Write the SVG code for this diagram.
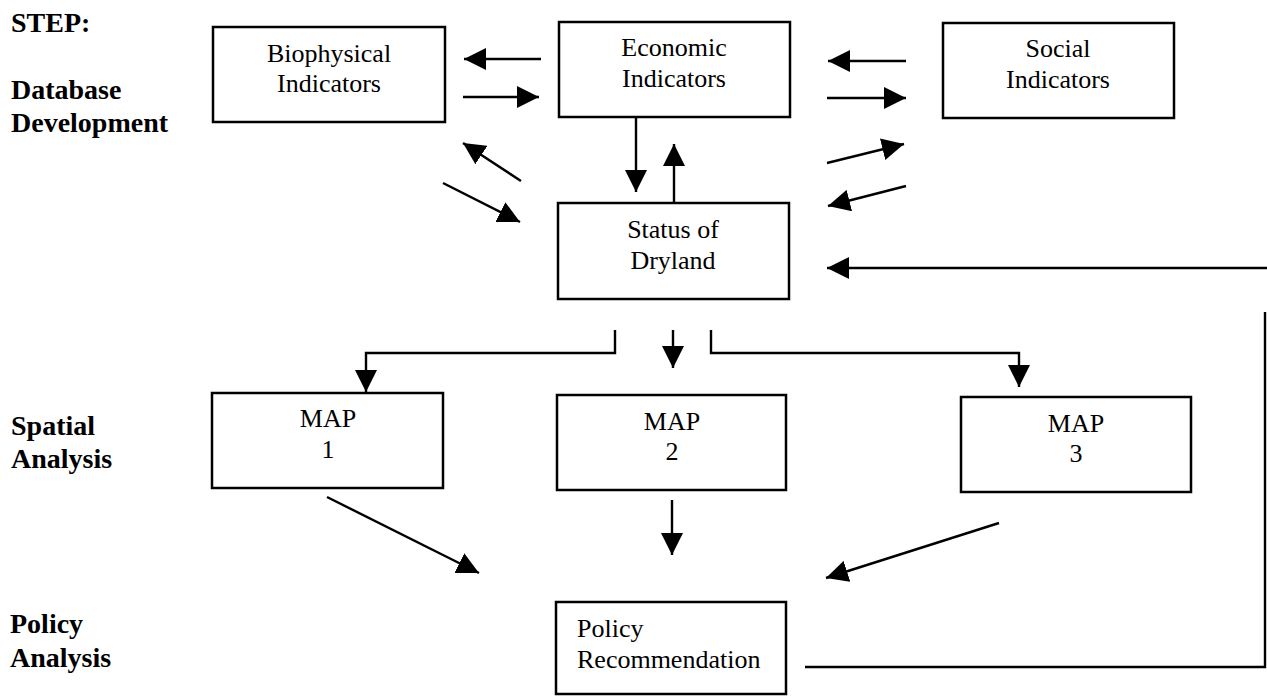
<svg xmlns="http://www.w3.org/2000/svg" width="1267" height="696" viewBox="0 0 1267 696">
<style>
.box{fill:#fff;stroke:#000;stroke-width:2.5}
.t{font-family:"Liberation Serif","Times New Roman",serif;font-size:26px;fill:#000}
.c{text-anchor:middle}
.lbl{font-family:"Liberation Serif","Times New Roman",serif;font-size:28px;font-weight:bold;fill:#000}
.ln{stroke:#000;stroke-width:2.4;fill:none}
.ar{stroke:#000;stroke-width:2.4;fill:none;marker-end:url(#ah)}
</style>
<defs>
<marker id="ah" viewBox="0 0 22 22" markerWidth="22" markerHeight="22" refX="22" refY="11" orient="auto" markerUnits="userSpaceOnUse">
<path d="M0,0 L22,11 L0,22 z" fill="#000"/>
</marker>
</defs>
<rect width="1267" height="696" fill="#fff"/>
<g id="labels">
<text class="lbl" x="11" y="32">STEP:</text>
<text class="lbl" x="11" y="99">Database</text>
<text class="lbl" x="11" y="132">Development</text>
<text class="lbl" x="11" y="435">Spatial</text>
<text class="lbl" x="11" y="468">Analysis</text>
<text class="lbl" x="10" y="633">Policy</text>
<text class="lbl" x="10" y="667">Analysis</text>
</g>
<g id="node-bio">
<rect class="box" x="213" y="27" width="232" height="95"/>
<text class="t c" x="329" y="62">Biophysical</text>
<text class="t c" x="329" y="92">Indicators</text>
</g>
<g id="node-econ">
<rect class="box" x="559" y="22" width="231" height="95"/>
<text class="t c" x="674" y="56">Economic</text>
<text class="t c" x="674" y="87">Indicators</text>
</g>
<g id="node-social">
<rect class="box" x="943" y="23" width="231" height="95"/>
<text class="t c" x="1058" y="57">Social</text>
<text class="t c" x="1058" y="88">Indicators</text>
</g>
<g id="node-status">
<rect class="box" x="558" y="203" width="231" height="96"/>
<text class="t c" x="673" y="238">Status of</text>
<text class="t c" x="673" y="269">Dryland</text>
</g>
<g id="node-map1">
<rect class="box" x="212" y="393" width="231" height="95"/>
<text class="t c" x="328" y="427">MAP</text>
<text class="t c" x="328" y="458">1</text>
</g>
<g id="node-map2">
<rect class="box" x="557" y="395" width="229" height="95"/>
<text class="t c" x="672" y="430">MAP</text>
<text class="t c" x="672" y="460">2</text>
</g>
<g id="node-map3">
<rect class="box" x="961" y="397" width="230" height="95"/>
<text class="t c" x="1076" y="432">MAP</text>
<text class="t c" x="1076" y="462">3</text>
</g>
<g id="node-policy">
<rect class="box" x="556" y="602" width="230" height="92"/>
<text class="t" x="577" y="637">Policy</text>
<text class="t" x="577" y="668">Recommendation</text>
</g>
<g id="connectors">
<line class="ar" x1="541" y1="59" x2="464" y2="59"/>
<line class="ar" x1="463" y1="97" x2="539" y2="97"/>
<line class="ar" x1="906" y1="61" x2="828" y2="61"/>
<line class="ar" x1="827" y1="98" x2="906" y2="98"/>
<line class="ar" x1="827" y1="163" x2="904" y2="144"/>
<line class="ar" x1="906" y1="186" x2="828" y2="206"/>
<line class="ar" x1="636" y1="117" x2="636" y2="192"/>
<line class="ar" x1="674" y1="203" x2="674" y2="144"/>
<line class="ar" x1="521" y1="181" x2="463" y2="143"/>
<line class="ar" x1="443" y1="183" x2="520" y2="222"/>
<line class="ar" x1="1267" y1="268" x2="827" y2="268"/>
<polyline class="ln" points="805,667 1265,667 1265,312"/>
<polyline class="ar" points="615,330 615,353 366,353 366,392"/>
<line class="ar" x1="673" y1="330" x2="673" y2="368"/>
<polyline class="ar" points="711,330 711,353 1019,353 1019,387"/>
<line class="ar" x1="327" y1="497" x2="479" y2="573"/>
<line class="ar" x1="672" y1="500" x2="672" y2="555"/>
<line class="ar" x1="999" y1="523" x2="826" y2="578"/>
</g>
</svg>
